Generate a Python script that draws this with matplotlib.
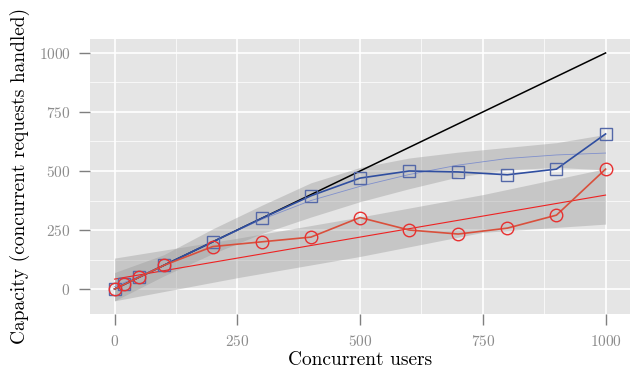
import matplotlib
matplotlib.use("Agg")
import matplotlib.pyplot as plt
from matplotlib.ticker import MultipleLocator

plt.rcParams["font.family"] = ["cmr10", "DejaVu Serif"]
plt.rcParams["axes.formatter.use_mathtext"] = True

# measured capacity
users = [0, 20, 50, 100, 200, 300, 400, 500, 600, 700, 800, 900, 1000]
blue_capacity = [0, 20, 50, 100, 200, 300, 395, 470, 500, 496, 484, 508, 657]
red_capacity = [0, 20, 50, 100, 180, 200, 220, 303, 250, 233, 258, 313, 508]

# smoothed fits
blue_fit_x = [0, 100, 200, 300, 400, 500, 600, 700, 800, 900, 1000]
blue_fit = [10, 100, 200, 295, 375, 435, 485, 525, 553, 568, 576]
blue_upper = [70, 145, 255, 355, 450, 515, 555, 580, 600, 620, 655]
blue_lower = [-50, 55, 150, 235, 305, 370, 425, 475, 505, 515, 505]

red_fit_x = [0, 250, 500, 750, 1000]
red_fit = [42, 131, 220, 309, 398]
red_upper = [131, 215, 305, 400, 510]
red_lower = [-50, 48, 138, 240, 275]

ideal_x = [0, 1000]
ideal_y = [0, 1000]

fig = plt.figure(figsize=(6.31, 3.73), dpi=100)
ax = fig.add_axes([0.1426, 0.158, 0.856, 0.738])
ax.set_facecolor("#e5e5e5")

ax.fill_between(blue_fit_x, blue_lower, blue_upper, color="#999999", alpha=0.4, lw=0, zorder=2)
ax.fill_between(red_fit_x, red_lower, red_upper, color="#999999", alpha=0.4, lw=0, zorder=2)

ax.plot(ideal_x, ideal_y, color="black", lw=1.1, zorder=3)
ax.plot(blue_fit_x, blue_fit, color="#8090cc", lw=0.6, zorder=4)
ax.plot(red_fit_x, red_fit, color="#ee2222", lw=0.8, zorder=4)

ax.plot(users, blue_capacity, color="#2f4ea0", lw=1.2, marker="s", markersize=9,
        markerfacecolor="none", markeredgecolor="#5468a8", markeredgewidth=1.0, zorder=5)
ax.plot(users, red_capacity, color="#d9503c", lw=1.2, marker="o", markersize=9,
        markerfacecolor="none", markeredgecolor="#e83030", markeredgewidth=1.0, zorder=5)

ax.set_xlim(-50, 1050)
ax.set_ylim(-106, 1060)
ax.xaxis.set_major_locator(MultipleLocator(250))
ax.yaxis.set_major_locator(MultipleLocator(250))
ax.xaxis.set_minor_locator(MultipleLocator(125))
ax.yaxis.set_minor_locator(MultipleLocator(125))

ax.grid(which="major", color="white", lw=1.2, zorder=1)
ax.grid(which="minor", color="white", lw=0.5, zorder=1)
ax.set_axisbelow(True)
for s in ax.spines.values():
    s.set_visible(False)

ax.tick_params(which="major", length=8, width=1.0, color="#7f7f7f",
               labelcolor="#8c8c8c", labelsize=11, pad=6)
ax.tick_params(which="minor", length=0)

ax.set_xlabel("Concurrent users", fontsize=14, labelpad=2)
ax.set_ylabel("Capacity (concurrent requests handled)", fontsize=14, labelpad=6)

fig.savefig("out.png", dpi=100)
